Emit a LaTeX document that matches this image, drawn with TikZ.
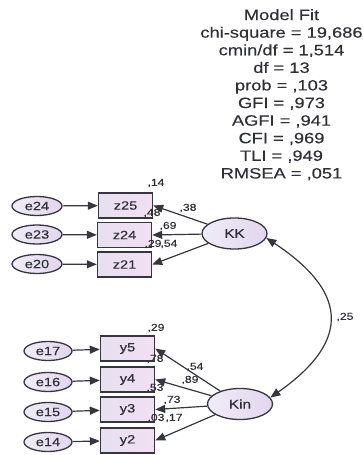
\documentclass[tikz,border=0pt]{standalone}
\usepackage{fontspec}
\setmainfont{Liberation Sans}[FakeStretch=1.22,FakeBold=0.3]
\usetikzlibrary{arrows.meta,shapes.geometric}
\definecolor{ink}{HTML}{36363F}
\definecolor{txt}{HTML}{303038}
\definecolor{errL}{HTML}{F0ECF7}
\definecolor{errR}{HTML}{E2D6EE}
\definecolor{obsL}{HTML}{E6E0F1}
\definecolor{obsR}{HTML}{F2DFF2}
\begin{document}
\begin{tikzpicture}[x=1pt,y=-1pt,
  err/.style={ellipse, draw=ink, line width=1.3pt, left color=errL, right color=errR,
    minimum width=50pt, minimum height=19pt, inner sep=0pt, text=txt,
    font=\fontsize{12}{12}\selectfont},
  errb/.style={err, minimum width=48pt, minimum height=19pt},
  obs/.style={rectangle, draw=ink, line width=1.4pt, left color=obsL, right color=obsR,
    minimum width=54pt, minimum height=25pt, inner sep=0pt, text=txt,
    font=\fontsize{12}{12}\selectfont},
  lat/.style={ellipse, draw=ink, line width=1.3pt, left color=errL, right color=errR,
    minimum width=65pt, minimum height=31pt, inner sep=0pt, text=txt,
    font=\fontsize{12.5}{12.5}\selectfont},
  coef/.style={inner sep=0pt, text=txt, font=\fontsize{10}{10}\selectfont},
  arr/.style={draw=ink, line width=1.2pt, -{Triangle[length=10pt,width=8pt]}},
  cov/.style={draw=ink, line width=1.2pt, {Triangle[length=10pt,width=8pt]}-{Triangle[length=10pt,width=8pt]}}
]
\useasboundingbox (0,0) rectangle (363,455);

% model fit
\node[anchor=north, align=center, inner sep=0pt, text=txt,
  font=\fontsize{15}{17.6}\selectfont] (fit) at (281.5,9)
  {Model Fit\\chi-square = 19,686\\cmin/df = 1,514\\df = 13\\prob = ,103\\GFI = ,973\\AGFI = ,941\\CFI = ,969\\TLI = ,949\\RMSEA = ,051};

% upper block
\node[err] (e24) at (37,206) {e24};
\node[err] (e23) at (37,234.5) {e23};
\node[err] (e20) at (37,264) {e20};
\node[obs] (z25) at (125.5,205.5) {z25};
\node[obs] (z24) at (124.5,235) {z24};
\node[obs] (z21) at (124.5,264.5) {z21};
\node[lat] (KK) at (234.5,233.5) {KK};

% lower block
\node[errb] (e17) at (48,351) {e17};
\node[errb] (e16) at (48,382) {e16};
\node[errb] (e15) at (48,412) {e15};
\node[errb] (e14) at (48,442) {e14};
\node[obs] (y5) at (127.5,348.5) {y5};
\node[obs] (y4) at (127.5,379.5) {y4};
\node[obs] (y3) at (127.5,409.5) {y3};
\node[obs] (y2) at (127.5,440.5) {y2};
\node[lat] (Kin) at (240,404) {Kin};

% error arrows
\draw[arr] (e24) -- (z25);
\draw[arr] (e23) -- (z24);
\draw[arr] (e20) -- (z21);
\draw[arr] (e17) -- (y5);
\draw[arr] (e16) -- (y4);
\draw[arr] (e15) -- (y3);
\draw[arr] (e14) -- (y2);

% loadings
\draw[arr] (KK) -- (z25.east);
\draw[arr] (KK) -- (z24.east);
\draw[arr] (KK) -- (z21.east);
\draw[arr] (Kin) -- (y5.east);
\draw[arr] (Kin) -- (y4.east);
\draw[arr] (Kin) -- (y3.east);
\draw[arr] (Kin) -- (y2.east);

% covariance
\draw[cov] (KK.-8) .. controls (345,290) and (354,339) .. (Kin.12);

% coefficient labels
\node[coef] (c14) at (156,183) {,14};
\node[coef] (c38) at (188,208) {,38};
\node[coef] (c48) at (152,213) {,48};
\node[coef] (c69) at (168,226) {,69};
\node[coef] (c29a) at (153,244) {,29};
\node[coef] (c54a) at (169,244) {,54};

\node[coef] (c29b) at (156,328) {,29};
\node[coef] (c54b) at (195,367) {,54};
\node[coef] (c78) at (155,359) {,78};
\node[coef] (c89) at (190,380) {,89};
\node[coef] (c53) at (155,388) {,53};
\node[coef] (c73) at (172,400) {,73};
\node[coef] (c03) at (156,418) {,03};
\node[coef] (c17) at (174,418) {,17};

\node[coef] (c25) at (345,317) {,25};
\end{tikzpicture}
\end{document}
